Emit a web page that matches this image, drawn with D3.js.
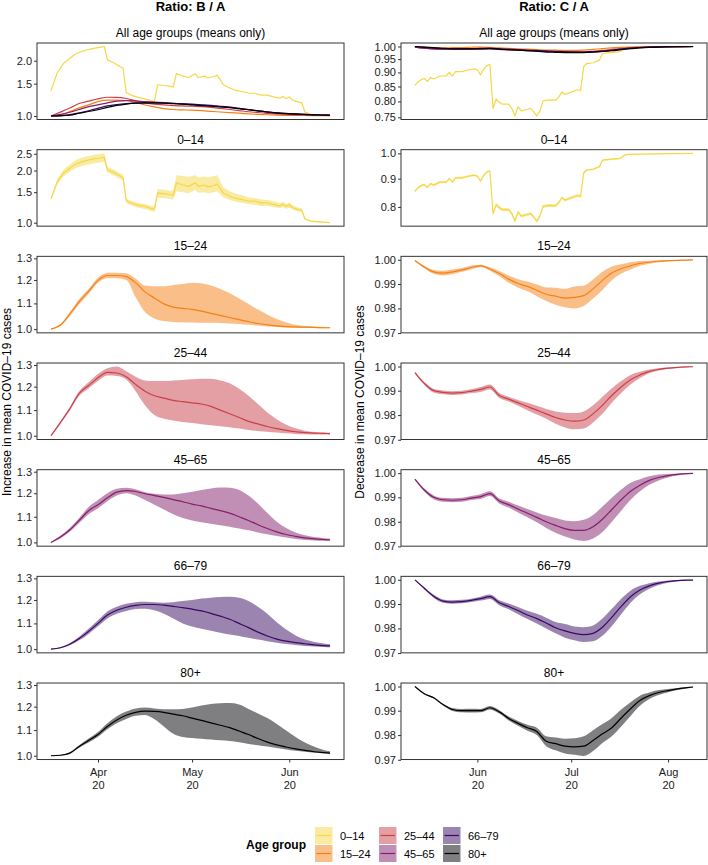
<!DOCTYPE html>
<html>
<head>
<meta charset="utf-8">
<script src="https://cdn.jsdelivr.net/npm/d3@7"></script>
<style>
body { margin: 0; background: #fff; }
text { font-family: "Liberation Sans", Arial, Helvetica, sans-serif; }
</style>
</head>
<body>
<div id="chart"></div>
<script>
//age groups
var groups = ['0–14', '15–24', '25–44', '45–65', '66–79', '80+'];

//first day of each ratio series
var startBA = new Date(Date.UTC(2020, 2, 17));
var startCA = new Date(Date.UTC(2020, 4, 12));

//day offsets for the smooth series
var days = [0,3,6,9,12,15,18,21,24,27,30,33,36,39,42,45,48,51,54,57,60,63,66,69,72,75,78,81,84,87,89];

//0-14, ratio B / A
var days014BA = [0,2,4,6,8,10,12,14,16,17,18,20,22,23,24,26,28,30,32,33,34,36,38,39,40,42,44,46,47,49,50,52,53,55,57,59,61,63,65,67,69,71,73,74,75,76,77,79,80,81,83,86,89];
var ba014_mean = [1.37,1.72,1.93,2.06,2.18,2.25,2.30,2.34,2.37,2.39,2.02,1.95,1.86,1.82,1.34,1.29,1.26,1.24,1.21,1.20,1.48,1.47,1.45,1.44,1.70,1.65,1.62,1.70,1.62,1.65,1.61,1.64,1.67,1.48,1.42,1.38,1.36,1.33,1.33,1.30,1.30,1.27,1.25,1.28,1.24,1.27,1.22,1.19,1.18,1.05,1.02,1.01,1.00];
var ba014_lo = [1.35,1.66,1.85,1.97,2.07,2.13,2.17,2.20,2.23,2.24,1.95,1.88,1.79,1.75,1.30,1.25,1.22,1.20,1.17,1.15,1.40,1.39,1.37,1.36,1.52,1.50,1.48,1.55,1.49,1.50,1.48,1.50,1.52,1.40,1.35,1.32,1.30,1.28,1.27,1.25,1.25,1.23,1.21,1.23,1.20,1.22,1.19,1.16,1.15,1.04,1.01,1.00,1.00];
var ba014_hi = [1.40,1.78,2.02,2.17,2.30,2.38,2.43,2.47,2.50,2.52,2.10,2.03,1.93,1.89,1.38,1.33,1.30,1.28,1.25,1.24,1.56,1.55,1.53,1.53,1.88,1.86,1.84,1.88,1.83,1.85,1.83,1.86,1.88,1.60,1.52,1.47,1.44,1.40,1.39,1.36,1.35,1.33,1.30,1.32,1.28,1.31,1.26,1.22,1.21,1.06,1.03,1.01,1.01];

//15-24, ratio B / A
var ba1524_mean = [1.000,1.015,1.057,1.107,1.150,1.198,1.220,1.220,1.215,1.188,1.148,1.122,1.098,1.085,1.080,1.076,1.069,1.060,1.052,1.044,1.036,1.028,1.021,1.016,1.012,1.009,1.008,1.007,1.006,1.005,1.005];
var ba1524_lo = [0.999,1.012,1.050,1.097,1.140,1.188,1.208,1.207,1.200,1.125,1.065,1.040,1.030,1.027,1.026,1.025,1.024,1.024,1.023,1.021,1.019,1.016,1.013,1.010,1.008,1.006,1.005,1.004,1.004,1.003,1.003];
var ba1524_hi = [1.001,1.018,1.064,1.117,1.160,1.210,1.232,1.233,1.230,1.205,1.175,1.172,1.172,1.178,1.182,1.188,1.185,1.175,1.160,1.142,1.120,1.098,1.075,1.055,1.038,1.025,1.016,1.012,1.010,1.009,1.008];

//25-44, ratio B / A
var ba2544_mean = [1.000,1.050,1.105,1.170,1.205,1.240,1.265,1.262,1.245,1.210,1.180,1.160,1.150,1.140,1.135,1.130,1.125,1.115,1.100,1.085,1.070,1.055,1.045,1.035,1.027,1.020,1.015,1.012,1.010,1.009,1.008];
var ba2544_lo = [0.999,1.045,1.098,1.160,1.192,1.225,1.250,1.248,1.232,1.180,1.120,1.080,1.065,1.058,1.052,1.048,1.044,1.040,1.036,1.032,1.027,1.022,1.018,1.015,1.012,1.009,1.007,1.006,1.005,1.005,1.005];
var ba2544_hi = [1.002,1.055,1.112,1.180,1.220,1.258,1.285,1.293,1.270,1.245,1.228,1.225,1.225,1.228,1.230,1.233,1.236,1.235,1.228,1.215,1.190,1.160,1.125,1.090,1.063,1.042,1.028,1.019,1.014,1.012,1.011];

//45-65, ratio B / A
var ba4565_mean = [1.000,1.020,1.048,1.085,1.125,1.150,1.180,1.205,1.212,1.208,1.198,1.190,1.182,1.172,1.163,1.153,1.145,1.135,1.125,1.115,1.100,1.085,1.068,1.053,1.040,1.030,1.023,1.017,1.013,1.011,1.010];
var ba4565_lo = [0.999,1.015,1.040,1.075,1.110,1.135,1.165,1.190,1.200,1.190,1.170,1.150,1.130,1.110,1.095,1.085,1.078,1.072,1.066,1.060,1.053,1.046,1.038,1.031,1.024,1.018,1.013,1.009,1.007,1.006,1.005];
var ba4565_hi = [1.002,1.025,1.055,1.095,1.140,1.170,1.200,1.220,1.225,1.218,1.205,1.198,1.195,1.195,1.200,1.207,1.215,1.222,1.226,1.225,1.215,1.190,1.155,1.115,1.080,1.055,1.038,1.027,1.020,1.016,1.014];

//66-79, ratio B / A
var ba6679_mean = [1.000,1.005,1.018,1.040,1.068,1.100,1.135,1.155,1.168,1.176,1.180,1.180,1.177,1.172,1.166,1.160,1.152,1.142,1.130,1.117,1.100,1.083,1.065,1.050,1.038,1.030,1.024,1.020,1.016,1.013,1.012];
var ba6679_lo = [0.999,1.003,1.014,1.033,1.058,1.088,1.120,1.140,1.152,1.160,1.162,1.155,1.140,1.120,1.100,1.087,1.078,1.070,1.063,1.056,1.050,1.043,1.036,1.030,1.024,1.019,1.015,1.012,1.010,1.008,1.007];
var ba6679_hi = [1.001,1.007,1.022,1.047,1.078,1.113,1.150,1.170,1.183,1.190,1.192,1.190,1.188,1.190,1.195,1.200,1.206,1.210,1.213,1.214,1.210,1.195,1.170,1.140,1.105,1.075,1.052,1.036,1.027,1.021,1.018];

//80+, ratio B / A
var ba80_mean = [1.000,1.002,1.010,1.035,1.058,1.082,1.115,1.142,1.162,1.175,1.180,1.179,1.175,1.167,1.160,1.150,1.140,1.130,1.120,1.110,1.096,1.082,1.066,1.052,1.041,1.033,1.026,1.020,1.015,1.012,1.010];
var ba80_lo = [0.999,1.001,1.007,1.030,1.050,1.073,1.103,1.128,1.146,1.160,1.163,1.145,1.115,1.085,1.072,1.068,1.065,1.062,1.059,1.056,1.051,1.045,1.040,1.035,1.029,1.024,1.019,1.015,1.011,1.009,1.008];
var ba80_hi = [1.001,1.003,1.013,1.040,1.066,1.092,1.128,1.158,1.178,1.192,1.196,1.192,1.188,1.188,1.190,1.196,1.205,1.212,1.215,1.216,1.210,1.190,1.170,1.150,1.125,1.098,1.072,1.050,1.034,1.022,1.017];

//0-14, ratio C / A
var days014CA = [0,1,2,3,4,5,6,8,10,11,12,13,15,17,19,20,21,22,23,24,25,26,27,28,30,31,32,33,34,36,37,38,39,40,41,43,45,46,47,48,50,52,53,54,55,57,59,60,63,65,66,67,68,72,77,83,89];
var ca014_mean = [.854,.866,.874,.878,.868,.882,.876,.887,.887,.900,.887,.903,.903,.909,.913,.909,.891,.912,.925,.929,.778,.808,.797,.791,.791,.778,.754,.783,.770,.775,.778,.767,.754,.770,.802,.805,.804,.814,.831,.823,.831,.839,.836,.922,.933,.936,.946,.972,.976,.978,.982,.992,.996,.997,.998,.999,1.0];
var ca014_lo = [.850,.862,.870,.874,.864,.878,.872,.883,.883,.896,.883,.899,.899,.905,.909,.905,.887,.908,.921,.925,.773,.803,.792,.786,.786,.773,.749,.778,.765,.770,.773,.762,.749,.765,.797,.800,.799,.809,.826,.818,.826,.834,.831,.917,.929,.932,.942,.969,.973,.975,.979,.990,.995,.996,.997,.998,.999];
var ca014_hi = [.858,.870,.878,.882,.872,.886,.880,.891,.891,.904,.891,.907,.907,.913,.917,.913,.895,.916,.929,.933,.783,.813,.802,.796,.796,.783,.759,.788,.775,.780,.783,.772,.759,.775,.807,.810,.809,.819,.836,.828,.836,.844,.841,.927,.937,.940,.950,.975,.979,.981,.985,.994,.997,.998,.999,1.0,1.001];

//15-24, ratio C / A
var ca1524_mean = [.9997,.997,.995,.9945,.995,.9958,.9968,.9975,.9962,.9943,.992,.9902,.989,.9874,.9858,.985,.9842,.9845,.9852,.988,.9915,.9945,.9963,.9975,.9985,.999,.9994,.9996,.9998,.9999,1.0];
var ca1524_lo = [.9995,.9965,.9942,.9935,.994,.995,.996,.997,.9955,.9932,.9905,.9885,.987,.985,.983,.9815,.9805,.980,.981,.984,.9875,.9915,.9943,.996,.9975,.9984,.999,.9994,.9997,.9998,.9999];
var ca1524_hi = [.9999,.9975,.9958,.9955,.996,.9966,.9976,.998,.9969,.9954,.9935,.992,.991,.9898,.9886,.9885,.988,.989,.9893,.9918,.995,.9972,.9982,.999,.9995,.9996,.9998,.9999,.9999,1.0,1.0];

//25-44, ratio C / A
var ca2544_mean = [.9975,.993,.990,.9893,.989,.9892,.9898,.9905,.9915,.988,.9865,.985,.9835,.982,.9805,.979,.978,.9775,.978,.9805,.984,.988,.9915,.9945,.9965,.998,.9988,.9993,.9996,.9998,.9999];
var ca2544_lo = [.9972,.9924,.9892,.9885,.9882,.9884,.989,.9895,.9905,.987,.9855,.9838,.982,.9802,.9785,.9765,.975,.9742,.9745,.977,.9805,.985,.989,.9925,.9952,.9972,.9983,.999,.9994,.9997,.9998];
var ca2544_hi = [.9978,.9936,.9908,.9901,.9898,.99,.9906,.9915,.9925,.989,.9875,.9862,.985,.9838,.9825,.9815,.981,.9808,.9815,.984,.9875,.991,.994,.9965,.9978,.9988,.9993,.9996,.9998,.9999,1.0];

//45-65, ratio C / A
var ca4565_mean = [.9975,.993,.990,.989,.9888,.989,.9897,.9903,.9915,.9885,.987,.9852,.9835,.9818,.980,.9785,.9772,.9765,.9765,.978,.981,.985,.989,.9925,.995,.997,.9982,.999,.9995,.9998,.9999];
var ca4565_lo = [.9972,.9924,.9892,.9882,.988,.9882,.9889,.9893,.9905,.9875,.9858,.9838,.9818,.9798,.9775,.9755,.974,.9728,.9722,.9732,.9758,.980,.9845,.989,.9925,.9952,.997,.9982,.999,.9995,.9998];
var ca4565_hi = [.9978,.9936,.9908,.9898,.9896,.9898,.9905,.9913,.9925,.9895,.9882,.9866,.9852,.9838,.9825,.9815,.9805,.9802,.9808,.9828,.9862,.9898,.9932,.996,.9975,.9987,.9994,.9997,.9999,1.0,1.0];

//66-79, ratio C / A
var ca6679_mean = [1.0,.9965,.9932,.9912,.9908,.991,.9915,.9922,.993,.9905,.989,.9873,.9855,.984,.9822,.9803,.979,.978,.9775,.978,.9805,.9845,.989,.993,.9958,.9975,.9986,.9993,.9997,.9999,.9999];
var ca6679_lo = [.9998,.9961,.9926,.9905,.9901,.9903,.9908,.9914,.9921,.9895,.9878,.9858,.9838,.982,.980,.978,.9762,.9752,.9745,.9748,.977,.981,.9858,.9905,.994,.9963,.9979,.9988,.9994,.9997,.9998];
var ca6679_hi = [1.0,.9969,.9938,.9919,.9915,.9917,.9922,.993,.9939,.9915,.9902,.9888,.9872,.986,.9844,.9826,.9818,.9808,.9805,.9812,.984,.988,.9922,.9955,.9975,.9986,.9993,.9997,.9999,1.0,1.0];

//80+, ratio C / A
var ca80_mean = [1.0,.997,.9953,.9925,.9905,.990,.990,.990,.9912,.9895,.9868,.9848,.983,.9815,.9775,.9765,.9755,.9752,.9755,.9778,.9805,.983,.987,.9908,.9942,.9962,.9975,.9983,.999,.9995,.9998];
var ca80_lo = [.9999,.9968,.995,.9921,.9899,.9893,.9892,.9893,.9905,.9888,.986,.9838,.9818,.980,.9755,.9738,.9725,.972,.9715,.9735,.9768,.9795,.9835,.9878,.992,.9948,.9965,.9976,.9985,.9992,.9996];
var ca80_hi = [1.0,.9972,.9956,.9929,.9911,.9907,.9908,.9907,.9919,.9902,.9876,.9858,.9842,.983,.9795,.979,.9785,.9787,.9795,.982,.9845,.987,.9905,.9935,.9962,.9975,.9985,.999,.9994,.9997,.9999];

//y tick labels
var baTicksAll = [1.0, 1.5, 2.0];
var baTicks014 = [1.0, 1.5, 2.0, 2.5];
var baTicks = [1.0, 1.1, 1.2, 1.3];
var caTicksAll = [0.75, 0.80, 0.85, 0.90, 0.95, 1.00];
var caTicks014 = [0.8, 0.9, 1.0];
var caTicks = [0.97, 0.98, 0.99, 1.00];

//turn the arrays into point lists
function makeSeries(start, d, mean, lo, hi, jagged){
    return {
        jagged: jagged,
        points: d.map(function(day, i){
            return {date: d3.utcDay.offset(start, day), mean: mean[i], lo: lo[i], hi: hi[i]};
        })
    };
}

var seriesBA = [
    makeSeries(startBA, days014BA, ba014_mean, ba014_lo, ba014_hi, true),
    makeSeries(startBA, days, ba1524_mean, ba1524_lo, ba1524_hi, false),
    makeSeries(startBA, days, ba2544_mean, ba2544_lo, ba2544_hi, false),
    makeSeries(startBA, days, ba4565_mean, ba4565_lo, ba4565_hi, false),
    makeSeries(startBA, days, ba6679_mean, ba6679_lo, ba6679_hi, false),
    makeSeries(startBA, days, ba80_mean, ba80_lo, ba80_hi, false)
];
var seriesCA = [
    makeSeries(startCA, days014CA, ca014_mean, ca014_lo, ca014_hi, true),
    makeSeries(startCA, days, ca1524_mean, ca1524_lo, ca1524_hi, false),
    makeSeries(startCA, days, ca2544_mean, ca2544_lo, ca2544_hi, false),
    makeSeries(startCA, days, ca4565_mean, ca4565_lo, ca4565_hi, false),
    makeSeries(startCA, days, ca6679_mean, ca6679_lo, ca6679_hi, false),
    makeSeries(startCA, days, ca80_mean, ca80_lo, ca80_hi, false)
];

//layout
var width = 708;
var height = 865;
var panel_top = 43;
var panel_step = 106.67;
var panel_height = 76.5;
var strip_titles = ['All age groups (means only)'].concat(groups);

var columns = [
    {title: 'Ratio: B / A', axis_title: 'Increase in mean COVID–19 cases', left: 37, right: 344, title_x: 10.5,
     series: seriesBA, ticks: [baTicksAll, baTicks014, baTicks], formats: ['.1f', '.1f', '.1f']},
    {title: 'Ratio: C / A', axis_title: 'Decrease in mean COVID–19 cases', left: 401, right: 707, title_x: 364,
     series: seriesCA, ticks: [caTicksAll, caTicks014, caTicks], formats: ['.2f', '.1f', '.2f']}
];

var colour = d3.scaleOrdinal()
    .domain(groups)
    .range(groups.map(function(g, i){ return d3.interpolateInferno(0.9 - i * 0.18); }));

var svg = d3.select('#chart')
    .append('svg')
    .attr('width', width)
    .attr('height', height);

svg.append('rect')
    .attr('width', width)
    .attr('height', height)
    .attr('fill', '#fff');

//log domain with ggplot style 5% padding
function expandLog(values){
    var a = Math.log(d3.min(values));
    var b = Math.log(d3.max(values));
    var e = (b - a) * 0.05;
    return [Math.exp(a - e), Math.exp(b + e)];
}

function drawColumn(col){
    //x scale shared by all rows
    var allDates = [];
    col.series.forEach(function(s){ s.points.forEach(function(p){ allDates.push(p.date.getTime()); }); });
    var x0 = d3.min(allDates), x1 = d3.max(allDates);
    var pad = (x1 - x0) * 0.05;
    var x = d3.scaleUtc()
        .domain([new Date(x0 - pad), new Date(x1 + pad)])
        .range([col.left, col.right]);

    //shared y domain for rows 3 to 7
    var sharedValues = [];
    col.series.slice(1).forEach(function(s){
        s.points.forEach(function(p){ sharedValues.push(p.lo, p.hi); });
    });
    var sharedDomain = expandLog(sharedValues);

    var meanValues = [];
    col.series.forEach(function(s){ s.points.forEach(function(p){ meanValues.push(p.mean); }); });

    //column title
    svg.append('text')
        .attr('x', (col.left + col.right) / 2)
        .attr('y', 11)
        .attr('text-anchor', 'middle')
        .style('font-size', '13px')
        .style('font-weight', 'bold')
        .text(col.title);

    //axis title
    svg.append('text')
        .attr('transform', 'translate(' + col.title_x + ',402) rotate(-90)')
        .attr('text-anchor', 'middle')
        .style('font-size', '12px')
        .text(col.axis_title);

    for(var row = 0; row < 7; row++){
        var top = panel_top + row * panel_step;
        var bottom = top + panel_height;
        var domain;
        var tickValues;
        var fmt;
        if(row === 0){
            domain = expandLog(meanValues);
            tickValues = col.ticks[0];
            fmt = col.formats[0];
        }
        else if(row === 1){
            var v = [];
            col.series[0].points.forEach(function(p){ v.push(p.lo, p.hi); });
            domain = expandLog(v);
            tickValues = col.ticks[1];
            fmt = col.formats[1];
        }
        else{
            domain = sharedDomain;
            tickValues = col.ticks[2];
            fmt = col.formats[2];
        }

        var y = d3.scaleLog().domain(domain).range([bottom, top]);
        var g = svg.append('g').attr('class', 'panel');

        //strip title
        g.append('text')
            .attr('x', (col.left + col.right) / 2)
            .attr('y', top - 6)
            .attr('text-anchor', 'middle')
            .style('font-size', '12px')
            .text(strip_titles[row]);

        var drawList = row === 0 ? col.series.map(function(s, i){ return i; }) : [row - 1];

        drawList.forEach(function(i){
            var s = col.series[i];
            var curve = s.jagged ? d3.curveLinear : d3.curveMonotoneX;
            if(row > 0){
                var area = d3.area()
                    .x(function(d){ return x(d.date); })
                    .y0(function(d){ return y(d.lo); })
                    .y1(function(d){ return y(d.hi); })
                    .curve(curve);
                g.append('path')
                    .datum(s.points)
                    .attr('d', area)
                    .attr('fill', colour(groups[i]))
                    .attr('fill-opacity', 0.5);
            }
            var line = d3.line()
                .x(function(d){ return x(d.date); })
                .y(function(d){ return y(d.mean); })
                .curve(curve);
            g.append('path')
                .datum(s.points)
                .attr('d', line)
                .attr('fill', 'none')
                .attr('stroke', colour(groups[i]))
                .attr('stroke-width', 1.2)
                .attr('stroke-linejoin', 'round');
        });

        //y axis
        var yAxis = g.append('g')
            .attr('transform', 'translate(' + col.left + ',0)')
            .call(d3.axisLeft(y).tickValues(tickValues).tickSize(3).tickPadding(2).tickFormat(d3.format(fmt)));
        yAxis.select('.domain').remove();
        yAxis.selectAll('line').attr('stroke', '#333');
        yAxis.selectAll('text')
            .attr('fill', '#1a1a1a')
            .style('font-size', '11px')
            .style('font-family', '"Liberation Sans", Arial, sans-serif');

        //x axis on the last row only
        if(row === 6){
            var xAxis = g.append('g')
                .attr('transform', 'translate(0,' + bottom + ')')
                .call(d3.axisBottom(x).ticks(d3.utcMonth.every(1)).tickSize(3).tickPadding(3).tickFormat(''));
            xAxis.select('.domain').remove();
            xAxis.selectAll('line').attr('stroke', '#333');
            xAxis.selectAll('.tick').each(function(d){
                var t = d3.select(this).select('text')
                    .attr('dy', null)
                    .attr('fill', '#1a1a1a')
                    .style('font-size', '11px')
                    .style('font-family', '"Liberation Sans", Arial, sans-serif');
                t.append('tspan').attr('x', 0).attr('dy', '0.95em').text(d3.utcFormat('%b')(d));
                t.append('tspan').attr('x', 0).attr('dy', '1.15em').text(d3.utcFormat('%y')(d));
            });
        }

        //panel border
        g.append('rect')
            .attr('x', col.left)
            .attr('y', top)
            .attr('width', col.right - col.left)
            .attr('height', panel_height)
            .attr('fill', 'none')
            .attr('stroke', '#333')
            .attr('stroke-width', 1);
    }
}

columns.forEach(drawColumn);

//legend
function legend(){
    var lg = svg.append('g').attr('class', 'legend');
    var key_x = [315, 379, 443];
    var key_y = [827, 845];
    var key_w = 17.5;
    var key_h = 17;

    lg.append('text')
        .attr('x', 246)
        .attr('y', 849)
        .style('font-size', '12px')
        .style('font-weight', 'bold')
        .text('Age group');

    groups.forEach(function(g, i){
        var cx = key_x[Math.floor(i / 2)];
        var cy = key_y[i % 2];
        lg.append('rect')
            .attr('x', cx)
            .attr('y', cy)
            .attr('width', key_w)
            .attr('height', key_h)
            .attr('fill', colour(g))
            .attr('fill-opacity', 0.5);
        lg.append('line')
            .attr('x1', cx + 1.5)
            .attr('x2', cx + key_w - 1.5)
            .attr('y1', cy + key_h / 2)
            .attr('y2', cy + key_h / 2)
            .attr('stroke', colour(g))
            .attr('stroke-width', 1.2);
        lg.append('text')
            .attr('x', cx + 25)
            .attr('y', cy + key_h / 2 + 4)
            .style('font-size', '11px')
            .text(g);
    });
}

legend();
</script>
</body>
</html>
